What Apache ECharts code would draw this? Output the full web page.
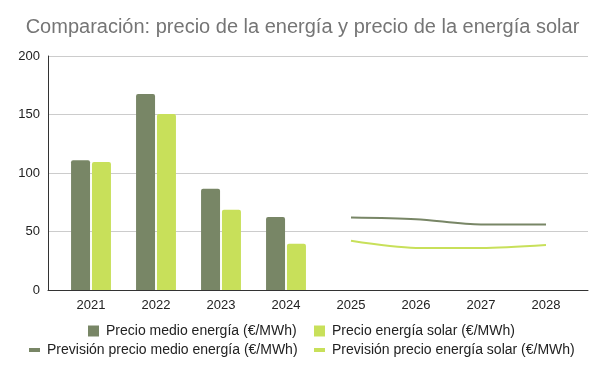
<!DOCTYPE html>
<html><head><meta charset="utf-8">
<script src="https://cdn.jsdelivr.net/npm/echarts@6/dist/echarts.min.js"></script>
<style>html,body{margin:0;padding:0;background:#fff}#c{width:605px;height:372px}</style>
</head><body><div id="c"></div>
<script>
const categories = ['2021','2022','2023','2024','2025','2026','2027','2028'];
const precioMedio = [111, 167.5, 86.5, 62.5, '-', '-', '-', '-'];
const precioSolar = [109.5, 150.5, 68.5, 39.5, '-', '-', '-', '-'];
const previsionMedio = ['-', '-', '-', '-', 62, 60.5, 56, 56];
const previsionSolar = ['-', '-', '-', '-', 42, 36, 36, 38.5];
const yTicks = [0, 50, 100, 150, 200];
const titleText = 'Comparación: precio de la energía y precio de la energía solar';
const names = ['Precio medio energía (€/MWh)', 'Precio energía solar (€/MWh)',
  'Previsión precio medio energía (€/MWh)', 'Previsión precio energía solar (€/MWh)'];

const DARK = '#788666', LIGHT = '#c8e05a';
const FONT = 'Liberation Sans';
const chart = echarts.init(document.getElementById('c'));
const legTxt = {color: '#222', fontSize: 14, fontFamily: FONT, padding: [0, 0, 0, 2]};
function leg(name, left, top, line) {
  return {data: [name], left: left, top: top, icon: 'rect', itemWidth: 11,
    itemHeight: line ? 4 : 11, itemGap: 0, textStyle: legTxt, padding: 0};
}
chart.setOption({
  animation: false,
  title: {text: titleText, left: 'center', top: 12,
    textStyle: {fontFamily: FONT, fontSize: 20, fontWeight: 'normal', color: '#757575'}},
  grid: [
    {left: 48, right: 17, top: 56, bottom: 82},
    {left: 58.5, right: 26.5, top: 56, bottom: 82}
  ],
  xAxis: [
    {gridIndex: 0, type: 'value', min: 0, max: 1, axisLine: {show: true, lineStyle: {color: '#333', width: 1}},
      axisTick: {show: false}, axisLabel: {show: false}, splitLine: {show: false}},
    {gridIndex: 1, type: 'category', data: categories, axisLine: {show: false}, axisTick: {show: false},
      axisLabel: {color: '#222', fontSize: 13, fontFamily: FONT, margin: 9}}
  ],
  yAxis: [
    {gridIndex: 0, type: 'value', min: 0, max: 200, interval: 50,
      axisLine: {show: true, lineStyle: {color: '#333'}}, axisTick: {show: false},
      axisLabel: {color: '#222', fontSize: 13, fontFamily: FONT, margin: 8,
        formatter: v => yTicks.includes(v) ? String(v) : ''},
      splitLine: {lineStyle: {color: '#cccccc'}}},
    {gridIndex: 1, type: 'value', min: 0, max: 200, show: false}
  ],
  legend: [
    leg(names[0], 88, 324, false),
    leg(names[1], 314, 324, false),
    leg(names[2], 29, 343, true),
    leg(names[3], 314, 343, true)
  ],
  series: [
    {name: names[0], type: 'bar', xAxisIndex: 1, yAxisIndex: 1, data: precioMedio,
      barWidth: 19, barGap: '10%', itemStyle: {color: DARK, borderRadius: [2, 2, 0, 0]}},
    {name: names[1], type: 'bar', xAxisIndex: 1, yAxisIndex: 1, data: precioSolar,
      barWidth: 19, barGap: '10%', itemStyle: {color: LIGHT, borderRadius: [2, 2, 0, 0]}},
    {name: names[2], type: 'line', xAxisIndex: 1, yAxisIndex: 1, data: previsionMedio,
      smooth: 0.3, showSymbol: false, lineStyle: {color: DARK, width: 2}, itemStyle: {color: DARK}},
    {name: names[3], type: 'line', xAxisIndex: 1, yAxisIndex: 1, data: previsionSolar,
      smooth: 0.3, showSymbol: false, lineStyle: {color: LIGHT, width: 2}, itemStyle: {color: LIGHT}}
  ]
});
</script></body></html>
